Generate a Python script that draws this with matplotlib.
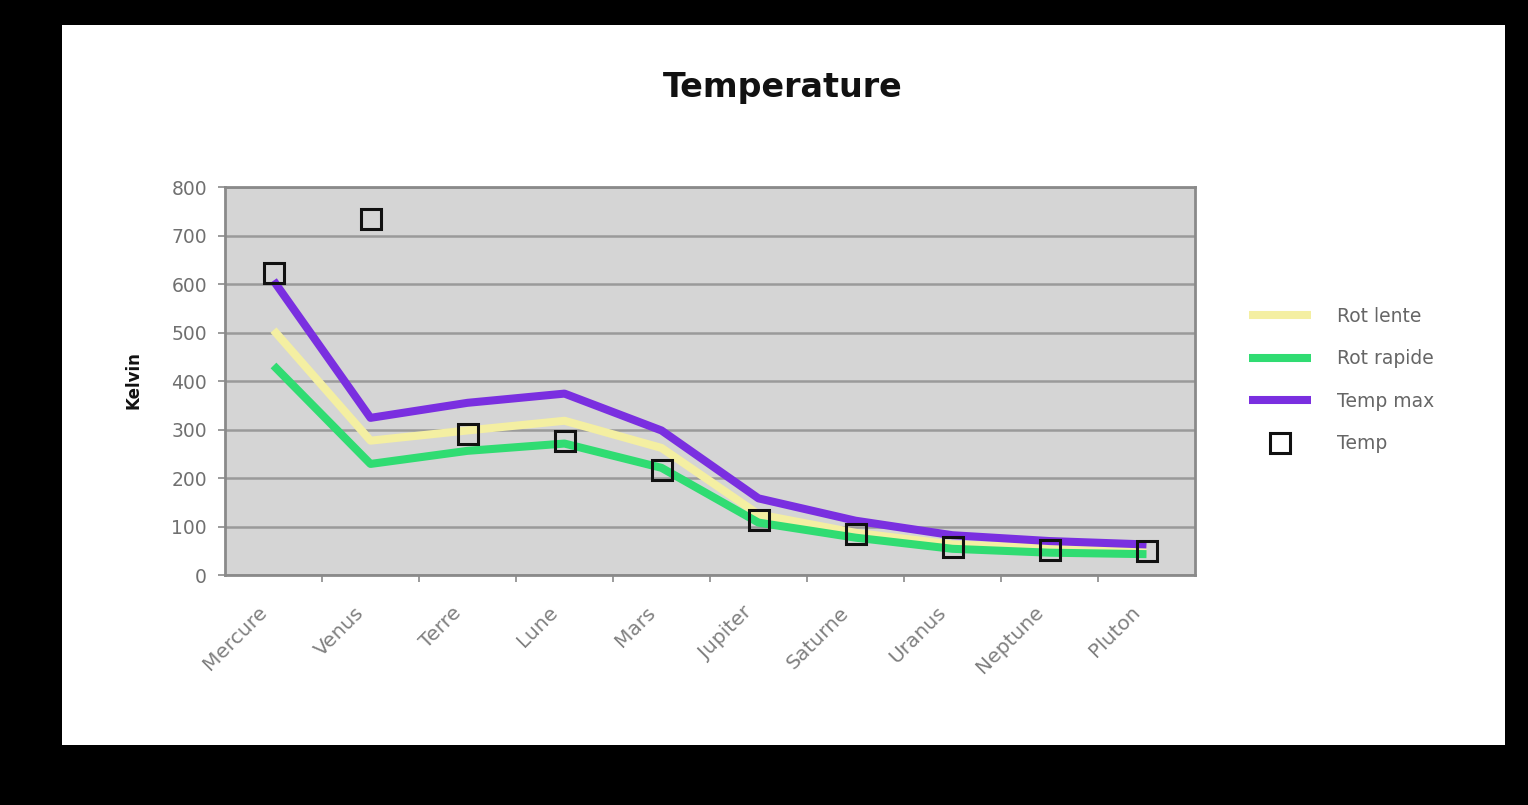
import matplotlib
matplotlib.use("Agg")
import matplotlib.pyplot as plt
from matplotlib.patches import Rectangle
from matplotlib.transforms import ScaledTranslation
import numpy as np

planets = ["Mercure", "Venus", "Terre", "Lune", "Mars", "Jupiter",
           "Saturne", "Uranus", "Neptune", "Pluton"]
rot_lente = [505, 277, 298, 318, 262, 125, 87, 63, 56, 53]
rot_rapide = [432, 229, 256, 271, 221, 108, 77, 54, 46, 43]
temp_max = [607, 324, 355, 374, 298, 158, 112, 82, 70, 63]
temp = [623, 733, 290, 277, 217, 114, 85, 58, 52, 49]
yticks = [0, 100, 200, 300, 400, 500, 600, 700, 800]

W, H = 1528, 805
fig = plt.figure(figsize=(W / 100, H / 100), dpi=100, facecolor="black")

# white panel
fig.patches.append(Rectangle((62 / W, 1 - 745 / H), (1505 - 62) / W, (745 - 25) / H,
                             transform=fig.transFigure, facecolor="white",
                             edgecolor="none", zorder=-10))

ax = fig.add_axes([225 / W, 1 - 575 / H, (1195 - 225) / W, (575 - 187) / H])
ax.set_zorder(1)
ax.set_facecolor("#d5d5d5")
for s in ax.spines.values():
    s.set_color("#8a8a8a")
    s.set_linewidth(2)

x = np.arange(len(planets))
ax.plot(x, rot_lente, color="#f4efa2", lw=5.8, solid_capstyle="butt",
        solid_joinstyle="round", label="Rot lente", zorder=3)
ax.plot(x, rot_rapide, color="#30dc72", lw=5.8, solid_capstyle="butt",
        solid_joinstyle="round", label="Rot rapide", zorder=3)
ax.plot(x, temp_max, color="#7a2fe0", lw=5.8, solid_capstyle="butt",
        solid_joinstyle="round", label="Temp max", zorder=4)
ax.plot(x, temp, linestyle="none", marker="s", markersize=14,
        markerfacecolor="none", markeredgecolor="#111111", markeredgewidth=2.2,
        label="Temp", zorder=5)

ax.set_xlim(-0.5, len(planets) - 0.5)
ax.set_ylim(0, 800)
ax.set_yticks(yticks)
ax.set_yticklabels([str(v) for v in yticks])
ax.yaxis.grid(True, color="#9a9a9a", lw=1.8)
ax.set_axisbelow(True)
ax.tick_params(axis="y", direction="out", length=5, width=1.2, color="#8a8a8a",
               labelsize=13.5, labelcolor="#707070", pad=8)

ax.set_xticks(x)
ax.set_xticklabels(planets, rotation=45, ha="right", rotation_mode="anchor",
                   color="#808080", fontsize=14.5)
ax.tick_params(axis="x", which="major", length=0, pad=20)
shift = ScaledTranslation(-16 / 100, 0, fig.dpi_scale_trans)
for lbl in ax.get_xticklabels():
    lbl.set_transform(lbl.get_transform() + shift)
ax.set_xticks(np.arange(0.5, len(planets) - 0.5, 1.0), minor=True)
ax.tick_params(axis="x", which="minor", direction="out", length=5, width=1.2,
               color="#8a8a8a")

fig.text(783 / W, 1 - 88 / H, "Temperature", ha="center", va="center",
         fontsize=24, fontweight="bold", color="#111111")
fig.text(133 / W, 1 - 380 / H, "Kelvin", ha="center", va="center",
         rotation=90, fontsize=12, fontweight="bold", color="#111111")

leg = ax.legend(loc="center left", bbox_to_anchor=(1232 / W, 1 - 380 / H),
                bbox_transform=fig.transFigure,
                frameon=False, fontsize=13.5, handlelength=3.3,
                handletextpad=1.4, labelspacing=1.25, numpoints=1)
for t in leg.get_texts():
    t.set_color("#666666")

fig.savefig("out.png", dpi=100, facecolor="black")
